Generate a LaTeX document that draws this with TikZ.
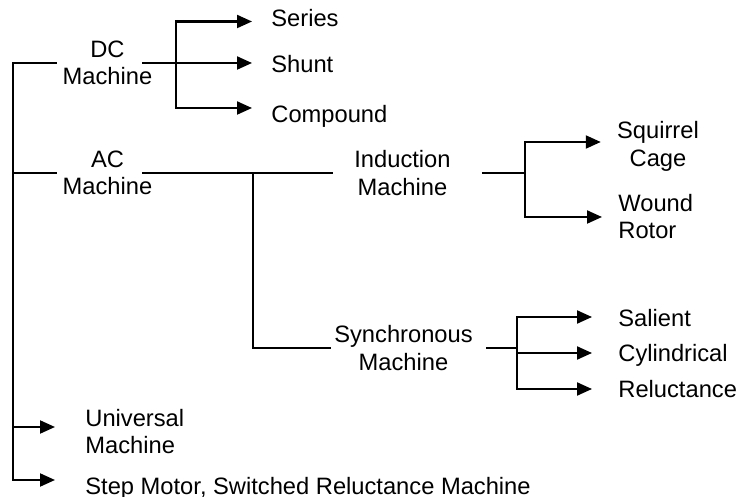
\documentclass[tikz,border=0pt]{standalone}
\usepackage{fontspec}
\setmainfont{Liberation Sans}
\usetikzlibrary{arrows.meta}
\begin{document}
\begin{tikzpicture}[x=0.5pt,y=-0.5pt,
  ln/.style={line width=1.05pt,line join=miter},
  arr/.style={ln,-{Triangle[length=7.5pt,width=6.5pt]}},
  lbl/.style={font=\fontsize{11.85pt}{13.7pt}\selectfont,inner ysep=0pt,inner xsep=0pt},
  leaf/.style={lbl,anchor=base west}]
\useasboundingbox (0,0) rectangle (739,497);
% labels
\node[lbl,align=center,inner xsep=2.75pt] (dc) at (107.5,63) {DC\\Machine};
\node[lbl,align=center,inner xsep=2.75pt] (ac) at (107.5,173) {AC\\Machine};
\node[lbl,align=center,inner xsep=10.5pt] (ind) at (402.5,173) {Induction\\Machine};
\node[lbl,align=center,inner xsep=1.5pt] (sync) at (403.5,348) {Synchronous\\Machine};
\node[leaf] (series) at (271,27) {Series};
\node[leaf] (shunt) at (271,73) {Shunt};
\node[leaf] (compound) at (271,123) {Compound};
\node[lbl,align=center] (squirrel) at (658,146.5) {Squirrel\\Cage};
\node[lbl,align=left,anchor=west] (wound) at (618,216.5) {Wound\\Rotor};
\node[leaf] (salient) at (618,327) {Salient};
\node[leaf] (cyl) at (618,362) {Cylindrical};
\node[leaf] (rel) at (618,397) {Reluctance};
\node[lbl,align=left,anchor=west] (univ) at (85,431.5) {Universal\\Machine};
\node[leaf] (step) at (85,494) {Step Motor, Switched Reluctance Machine};
% coordinates
\coordinate (t1) at (13,63);
\coordinate (ta) at (13,173);
\coordinate (tu) at (13,427);
\coordinate (t5) at (13,480);
\coordinate (dcv) at (176,63);
\coordinate (sa) at (176,21.5);
\coordinate (ca) at (176,108);
\coordinate (acv) at (253,173);
\coordinate (indv) at (525,173);
\coordinate (sqa) at (525,142);
\coordinate (wra) at (525,217);
\coordinate (syncv) at (517,348);
\coordinate (sla) at (517,317);
\coordinate (cya) at (517,353);
\coordinate (rla) at (517,389);
% trunk
\draw[arr,shorten >=15pt] (dc.west) -- (t1) -- (t5) -- (t5 -| step.west);
\draw[ln] (ta) -- (ac.west);
\draw[arr,shorten >=15pt] (tu) -- (tu -| univ.west);
% DC branch
\draw[ln,shorten <=-8pt] (dc.east) -- (dcv);
\draw[arr,shorten >=9.5pt] (dcv) -- (sa) -- (sa -| series.west);
\draw[arr,shorten >=9.5pt] (dcv) -- (dcv -| shunt.west);
\draw[arr,shorten >=9.5pt] (dcv) -- (ca) -- (ca -| compound.west);
% AC branch
\draw[ln,shorten <=-8pt] (ac.east) -- (ind.west);
\draw[ln] (acv) |- (sync.west);
% Induction branch
\draw[ln,shorten <=5pt] (ind.east) -- (indv);
\draw[arr,shorten >=8pt] (indv) -- (sqa) -- (sqa -| squirrel.west);
\draw[arr,shorten >=8pt] (indv) -- (wra) -- (wra -| wound.west);
% Synchronous branch
\draw[ln,shorten <=5pt] (sync.east) -- (syncv);
\draw[arr,shorten >=13pt] (syncv) -- (sla) -- (sla -| salient.west);
\draw[arr,shorten >=13pt] (cya) -- (cya -| cyl.west);
\draw[arr,shorten >=13pt] (syncv) -- (rla) -- (rla -| rel.west);
\end{tikzpicture}
\end{document}
